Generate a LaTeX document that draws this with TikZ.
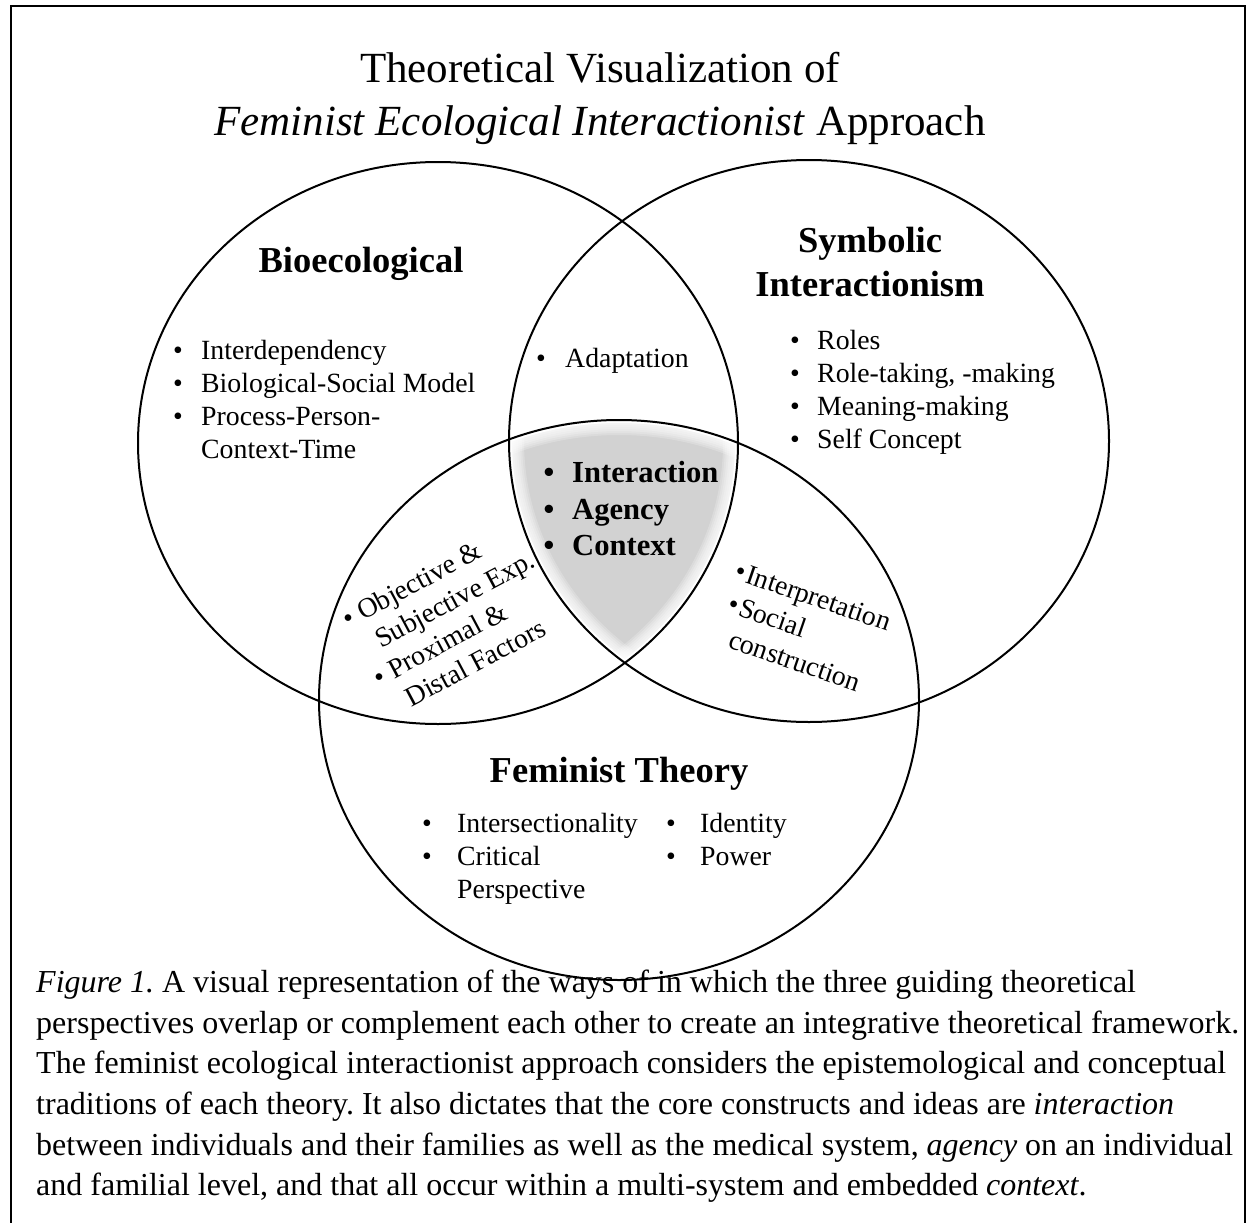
\documentclass[tikz,border=0pt]{standalone}
\usepackage{fontspec}
\setmainfont{Liberation Serif}
\frenchspacing
\definecolor{coregray}{RGB}{210,210,210}
\begin{document}
\begin{tikzpicture}[x=1pt,y=-1pt,
  venn/.style={line width=2pt},
  frameline/.style={line width=2.4pt},
  titletext/.style={font=\fontsize{43}{52}\selectfont, inner sep=0pt, anchor=base},
  head/.style={font=\bfseries\fontsize{36.5}{44}\selectfont, inner sep=0pt, anchor=base},
  item/.style={font=\fontsize{27.8}{33}\selectfont, inner sep=0pt, anchor=base west},
  dot/.style={font=\fontsize{27.8}{33}\selectfont, inner sep=0pt, anchor=base},
  coreitem/.style={font=\bfseries\fontsize{30.6}{37}\selectfont, inner sep=0pt, anchor=base west},
  coredot/.style={font=\bfseries\fontsize{30.6}{37}\selectfont, inner sep=0pt, anchor=base},
  captext/.style={font=\fontsize{32}{40.6}\selectfont, inner sep=0pt, anchor=base west},
  softedge/.style={draw=white, draw opacity=0.22}
]
\useasboundingbox (0,0) rectangle (1248,1223);

% outer frame (open at the bottom)
\draw[frameline] (11,1230) -- (11,6) -- (1245,6) -- (1245,1230);

% circle centres
\coordinate (bio) at (438,443);
\coordinate (sym) at (809,441);
\coordinate (fem) at (619,700);

% shaded core where all three perspectives meet, with soft edges
\begin{scope}
  \clip (bio) ellipse [x radius=300, y radius=281];
  \clip (sym) ellipse [x radius=300, y radius=281];
  \clip (fem) ellipse [x radius=300, y radius=280];
  \fill[coregray] (fem) ellipse [x radius=300, y radius=280];
  \foreach \w in {6,10,14,18,22,26,30} {
    \draw[softedge, line width=\w pt] (bio) ellipse [x radius=300, y radius=281];
    \draw[softedge, line width=\w pt] (sym) ellipse [x radius=300, y radius=281];
    \draw[softedge, line width=\w pt] (fem) ellipse [x radius=300, y radius=280];
  }
  \draw[white, line width=6pt] (bio) ellipse [x radius=300, y radius=281];
  \draw[white, line width=6pt] (sym) ellipse [x radius=300, y radius=281];
  \draw[white, line width=6pt] (fem) ellipse [x radius=300, y radius=280];
\end{scope}

% the three circles
\draw[venn] (bio) ellipse [x radius=300, y radius=281];
\draw[venn] (sym) ellipse [x radius=300, y radius=281];
\draw[venn] (fem) ellipse [x radius=300, y radius=280];

% title
\node[titletext] (t1) at (600,83) {Theoretical Visualization of};
\node[titletext] (t2) at (600,135) {\textit{Feminist Ecological Interactionist} Approach};

% headings
\node[head] (hbio) at (361,272) {Bioecological};
\node[head] (hsym1) at (870,252) {Symbolic};
\node[head] (hsym2) at (870,296) {Interactionism};
\node[head] (hfem) at (619,782) {Feminist Theory};

% Bioecological items
\node[dot] (db1) at (178,359) {\textbullet};
\node[item] (b1) at (201,359) {Interdependency};
\node[dot] (db2) at (178,392) {\textbullet};
\node[item] (b2) at (201,392) {Biological-Social Model};
\node[dot] (db3) at (178,425) {\textbullet};
\node[item] (b3) at (201,425) {Process-Person-};
\node[item] (b4) at (201,458) {Context-Time};

% Symbolic Interactionism items
\node[dot] (ds1) at (795,349) {\textbullet};
\node[item] (s1) at (817,349) {Roles};
\node[dot] (ds2) at (795,382) {\textbullet};
\node[item] (s2) at (817,382) {Role-taking, -making};
\node[dot] (ds3) at (795,415) {\textbullet};
\node[item] (s3) at (817,415) {Meaning-making};
\node[dot] (ds4) at (795,448) {\textbullet};
\node[item] (s4) at (817,448) {Self Concept};

% overlap of Bioecological and Symbolic Interactionism
\node[dot] (da) at (541,367) {\textbullet};
\node[item] (a1) at (565,367) {Adaptation};

% core constructs
\node[coredot] (dc1) at (549,482) {\textbullet};
\node[coreitem] (c1) at (572,482) {Interaction};
\node[coredot] (dc2) at (549,519) {\textbullet};
\node[coreitem] (c2) at (572,519) {Agency};
\node[coredot] (dc3) at (549,555) {\textbullet};
\node[coreitem] (c3) at (572,555) {Context};

% overlap of Bioecological and Feminist Theory
\begin{scope}[shift={(363,621)}, rotate=28]
  \node[dot, anchor=base east, rotate=28] (dl1) at (-7,0) {\textbullet};
  \node[item, rotate=28] (l1) at (0,0) {Objective \&};
  \node[item, rotate=28] (l2) at (3,33) {Subjective Exp.};
  \node[dot, anchor=base east, rotate=28] (dl3) at (-7,66) {\textbullet};
  \node[item, rotate=28] (l3) at (0,66) {Proximal \&};
  \node[item, rotate=28] (l4) at (2,99) {Distal Factors};
\end{scope}

% overlap of Symbolic Interactionism and Feminist Theory
\begin{scope}[shift={(744,582)}, rotate=-19]
  \node[dot, anchor=base east, rotate=-19] (dr1) at (-1,0) {\textbullet};
  \node[item, rotate=-19] (r1) at (0,0) {Interpretation};
  \node[dot, anchor=base east, rotate=-19] (dr2) at (3,33.5) {\textbullet};
  \node[item, rotate=-19] (r2) at (4,33.5) {Social};
  \node[item, rotate=-19] (r3) at (5,67) {construction};
\end{scope}

% Feminist Theory items
\node[dot] (df1) at (427,832) {\textbullet};
\node[item] (f1) at (457,832) {Intersectionality};
\node[dot] (df2) at (427,865) {\textbullet};
\node[item] (f2) at (457,865) {Critical};
\node[item] (f3) at (457,898) {Perspective};
\node[dot] (df4) at (671,832) {\textbullet};
\node[item] (f4) at (700,832) {Identity};
\node[dot] (df5) at (671,865) {\textbullet};
\node[item] (f5) at (700,865) {Power};

% caption
\node[captext] (cap1) at (36,992) {\textit{Figure 1.} A visual representation of the ways of in which the three guiding theoretical};
\node[captext] (cap2) at (36,1033) {perspectives overlap or complement each other to create an integrative theoretical framework.};
\node[captext] (cap3) at (36,1073) {The feminist ecological interactionist approach considers the epistemological and conceptual};
\node[captext] (cap4) at (36,1114) {traditions of each theory. It also dictates that the core constructs and ideas are \textit{interaction}};
\node[captext] (cap5) at (36,1155) {between individuals and their families as well as the medical system, \textit{agency} on an individual};
\node[captext] (cap6) at (36,1195) {and familial level, and that all occur within a multi-system and embedded \textit{context}.};
\end{tikzpicture}
\end{document}
